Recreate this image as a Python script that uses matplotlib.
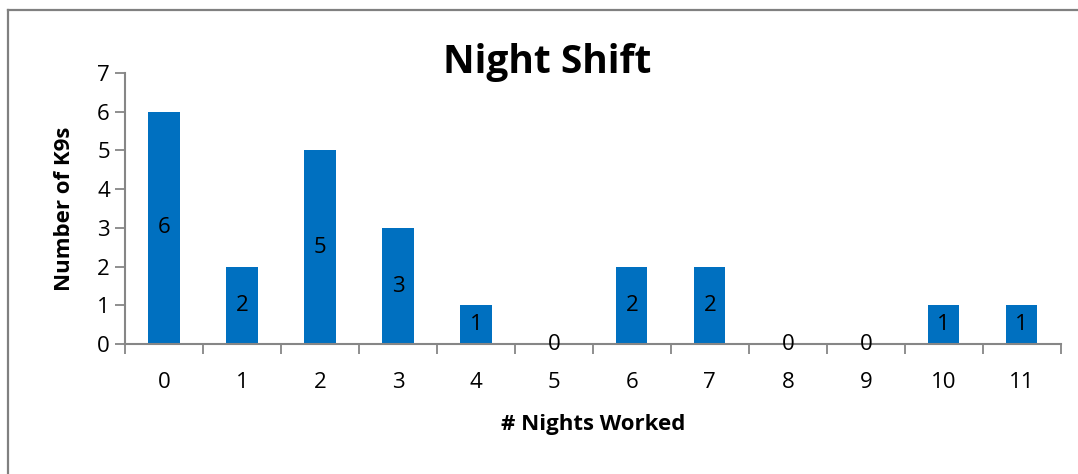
import matplotlib.pyplot as plt
from matplotlib.lines import Line2D

# nights worked on the night shift and how many K9s fall in each bucket
nights = ['0', '1', '2', '3', '4', '5', '6', '7', '8', '9', '10', '11']
k9_counts = [6, 2, 5, 3, 1, 0, 2, 2, 0, 0, 1, 1]

plt.rcParams['font.family'] = ['Open Sans', 'DejaVu Sans']

fig = plt.figure(figsize=(10.78, 4.74), dpi=100)
ax = fig.add_axes([0.116, 0.274, 0.868, 0.572])

x = range(len(nights))
bars = ax.bar(x, k9_counts, width=0.4, color='#0070C0', zorder=2)

# value labels sit in the middle of each bar
for xi, v in zip(x, k9_counts):
    ax.text(xi, v / 2, str(v), ha='center', va='center', fontsize=16, color='black', zorder=3)

ax.set_xlim(-0.5, len(nights) - 0.5)
ax.set_ylim(0, 7)
ax.set_yticks(range(0, 8))
ax.set_xticks(list(x))
ax.set_xticklabels(nights)
ax.set_xticks([i - 0.5 for i in range(len(nights) + 1)], minor=True)

axis_grey = '#868686'
for side in ['top', 'right']:
    ax.spines[side].set_visible(False)
for side in ['left', 'bottom']:
    ax.spines[side].set_color(axis_grey)
    ax.spines[side].set_linewidth(1.5)

ax.tick_params(axis='x', which='major', length=0, labelsize=16, pad=20)
ax.tick_params(axis='x', which='minor', length=7, width=1.3, color=axis_grey, direction='out')
ax.tick_params(axis='y', length=7, width=1.3, color=axis_grey, labelsize=16, pad=4)

# title sits partly over the plot area, as in the chart layout
fig.text(0.508, 1 - 62 / 474, 'Night Shift', fontsize=28, fontweight='bold',
         ha='center', va='center')
ax.set_xlabel('# Nights Worked', fontsize=16, fontweight='bold', labelpad=15)
ax.set_ylabel('Number of K9s', fontsize=16, fontweight='bold', labelpad=16)

# chart frame: only the top and left edges fall inside the image
fig.add_artist(Line2D([8 / 1078, 1.0], [1 - 9.5 / 474, 1 - 9.5 / 474], transform=fig.transFigure,
                      color='#808080', linewidth=1.6))
fig.add_artist(Line2D([8 / 1078, 8 / 1078], [0.0, 1 - 9.5 / 474], transform=fig.transFigure,
                      color='#808080', linewidth=1.6))

fig.savefig('out.png', dpi=100)
